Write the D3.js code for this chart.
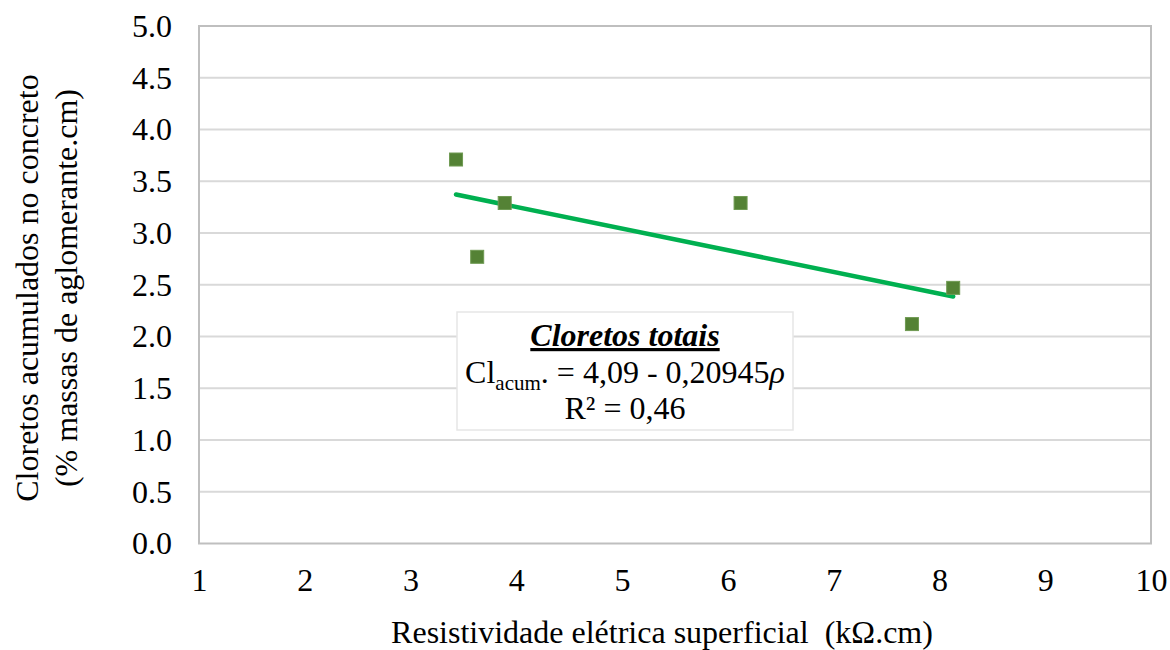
<!DOCTYPE html>
<html>
<head>
<meta charset="utf-8">
<script src="https://cdn.jsdelivr.net/npm/d3@7"></script>
<style>
  body { margin: 0; background: #fff; }
  svg { display: block; }
  svg text { font-family: "Liberation Serif", Tinos, "Times New Roman", Times, serif; }
</style>
</head>
<body>
<svg id="chart" width="1170" height="650"></svg>
<script>
// Measured samples: surface electrical resistivity vs accumulated chlorides
const resistivity = [3.43, 3.63, 3.89, 6.12, 7.74, 8.13];
const chlorides   = [3.71, 2.77, 3.29, 3.29, 2.12, 2.47];

// Linear fit reported in the annotation
const fitIntercept = 4.09;
const fitSlope = -0.20945;

const xTicks = [1, 2, 3, 4, 5, 6, 7, 8, 9, 10];
const yTicks = [0, 0.5, 1, 1.5, 2, 2.5, 3, 3.5, 4, 4.5, 5];

const xTitle = "Resistividade elétrica superficial  (kΩ.cm)";
const yTitleLines = ["Cloretos acumulados no concreto", "(% massas de aglomerante.cm)"];

const FS = 32;
const svg = d3.select("#chart");
const plot = { left: 199, right: 1151, top: 26, bottom: 543.5 };

const x = d3.scaleLinear().domain([1, 10]).range([plot.left, plot.right]);
const y = d3.scaleLinear().domain([0, 5]).range([plot.bottom, plot.top]);

// Horizontal gridlines
svg.append("g")
  .selectAll("line")
  .data(yTicks.filter(t => t > 0))
  .join("line")
  .attr("x1", plot.left).attr("x2", plot.right)
  .attr("y1", d => y(d)).attr("y2", d => y(d))
  .attr("stroke", "#d9d9d9").attr("stroke-width", 2);

// Plot area frame
svg.append("rect")
  .attr("x", plot.left).attr("y", plot.top)
  .attr("width", plot.right - plot.left).attr("height", plot.bottom - plot.top)
  .attr("fill", "none").attr("stroke", "#bfbfbf").attr("stroke-width", 2);

// Y axis labels
const yAxis = d3.axisLeft(y).tickValues(yTicks).tickFormat(d3.format(".1f")).tickSize(0).tickPadding(27);
const gy = svg.append("g").attr("transform", `translate(${plot.left},0)`).call(yAxis);
gy.attr("font-family", null).attr("font-size", null);
gy.select(".domain").remove();
gy.selectAll("text").attr("font-size", FS).attr("fill", "#000");

// X axis labels
const xAxis = d3.axisBottom(x).tickValues(xTicks).tickFormat(d3.format("d")).tickSize(0).tickPadding(25);
const gx = svg.append("g").attr("transform", `translate(0,${plot.bottom})`).call(xAxis);
gx.attr("font-family", null).attr("font-size", null);
gx.select(".domain").remove();
gx.selectAll("text").attr("font-size", FS).attr("fill", "#000");

// Axis titles
svg.append("text")
  .attr("x", 662).attr("y", 643)
  .attr("text-anchor", "middle")
  .attr("font-size", FS).attr("fill", "#000")
  .attr("xml:space", "preserve")
  .style("white-space", "pre")
  .text(xTitle);

const yt = svg.append("text")
  .attr("transform", "translate(0,288) rotate(-90)")
  .attr("text-anchor", "middle")
  .attr("font-size", FS).attr("fill", "#000");
yTitleLines.forEach((line, i) => {
  yt.append("tspan").attr("x", 0).attr("y", 38 + i * 39).text(line);
});

// Trend line over the span of the data
const xr = d3.extent(resistivity);
const trend = xr.map(v => [v, fitIntercept + fitSlope * v]);
svg.append("path")
  .datum(trend)
  .attr("d", d3.line().x(d => x(d[0])).y(d => y(d[1])))
  .attr("stroke", "#00b050").attr("stroke-width", 4.5)
  .attr("stroke-linecap", "round").attr("fill", "none");

// Data markers
const ms = 13;
svg.append("g")
  .selectAll("rect")
  .data(resistivity.map((v, i) => [v, chlorides[i]]))
  .join("rect")
  .attr("x", d => x(d[0]) - ms / 2).attr("y", d => y(d[1]) - ms / 2)
  .attr("width", ms).attr("height", ms)
  .attr("fill", "#548235").attr("stroke", "#6f9a52").attr("stroke-width", 1);

// Equation annotation
const box = svg.append("g");
box.append("rect")
  .attr("x", 457).attr("y", 312).attr("width", 336).attr("height", 118)
  .attr("fill", "#fff").attr("stroke", "#e6e6e6").attr("stroke-width", 1.5);
const cx = 625;
box.append("text")
  .attr("x", cx).attr("y", 346)
  .attr("text-anchor", "middle")
  .attr("font-size", FS).attr("font-weight", "bold").attr("font-style", "italic")
  .attr("text-decoration", "underline").attr("fill", "#000")
  .text("Cloretos totais");
const eq = box.append("text")
  .attr("x", cx).attr("y", 383)
  .attr("text-anchor", "middle")
  .attr("font-size", FS).attr("fill", "#000");
eq.append("tspan").text("Cl");
eq.append("tspan").attr("font-size", 21).attr("dy", 7).text("acum");
eq.append("tspan").attr("dy", -7).text(". = 4,09 - 0,20945");
eq.append("tspan").attr("font-style", "italic").text("ρ");
box.append("text")
  .attr("x", cx).attr("y", 419)
  .attr("text-anchor", "middle")
  .attr("font-size", FS).attr("fill", "#000")
  .text("R² = 0,46");
</script>
</body>
</html>
